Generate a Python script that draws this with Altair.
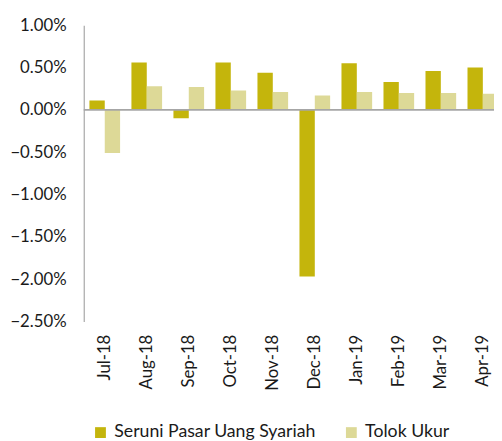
import altair as alt
import pandas as pd

months = ["Jul-18", "Aug-18", "Sep-18", "Oct-18", "Nov-18", "Dec-18",
          "Jan-19", "Feb-19", "Mar-19", "Apr-19"]
seruni = [0.0011, 0.0056, -0.0010, 0.0056, 0.0044, -0.0197, 0.0055, 0.0033, 0.0046, 0.0050]
tolok = [-0.0051, 0.0028, 0.0027, 0.0023, 0.0021, 0.0017, 0.0021, 0.0020, 0.0020, 0.0019]
series = ["Seruni Pasar Uang Syariah", "Tolok Ukur"]
colors = ["#C4B50C", "#DDD997"]
y_ticks = [0.01, 0.005, 0, -0.005, -0.01, -0.015, -0.02, -0.025]

rows = []
for i, m in enumerate(months):
    rows.append({"month": m, "series": series[0], "value": seruni[i]})
    rows.append({"month": m, "series": series[1], "value": tolok[i]})
df = pd.DataFrame(rows)

W, H = 417, 301
FONT = "Lato"
TXT = "#1a1a1a"

bars = alt.Chart(df).mark_bar(clip=True).encode(
    x=alt.X("month:N", sort=months,
            scale=alt.Scale(range=[0, 427], paddingInner=0.27, paddingOuter=0.135),
            axis=alt.Axis(title=None, labelAngle=270, domain=False, ticks=False,
                          labelPadding=13, labelAlign="right", labelBaseline="middle")),
    xOffset=alt.XOffset("series:N", sort=series,
                        scale=alt.Scale(paddingInner=0, paddingOuter=0)),
    y=alt.Y("value:Q", scale=alt.Scale(domain=[-0.025, 0.01], nice=False, zero=False),
            axis=alt.Axis(values=y_ticks, format=".2%", title=None, grid=False,
                          ticks=False, domainColor="#A6A6A6", domainWidth=1.2,
                          labelPadding=18)),
    color=alt.Color("series:N", sort=series,
                    scale=alt.Scale(domain=series, range=colors),
                    legend=alt.Legend(title=None, orient="none", legendX=8, legendY=405,
                                      direction="horizontal", symbolType="square",
                                      symbolSize=121, columnPadding=26, labelOffset=5,
                                      labelLimit=0, symbolStrokeWidth=0)),
)

zero = alt.Chart(pd.DataFrame({"z": [0]})).mark_rule(color="#A6A6A6", strokeWidth=2).encode(
    y=alt.datum(0), x=alt.value(0), x2=alt.value(W)
)

chart = alt.layer(bars, zero).properties(
    width=W, height=H,
    autosize=alt.AutoSizeParams(type="none"),
    padding={"left": 77, "top": 14, "right": 0, "bottom": 118},
).configure_view(stroke=None).configure_axis(
    labelFont=FONT, labelFontSize=17, labelColor=TXT
).configure_legend(
    labelFont=FONT, labelFontSize=18, labelColor=TXT
)

chart.save("out.html", embed_options={"renderer": "svg", "actions": False})
